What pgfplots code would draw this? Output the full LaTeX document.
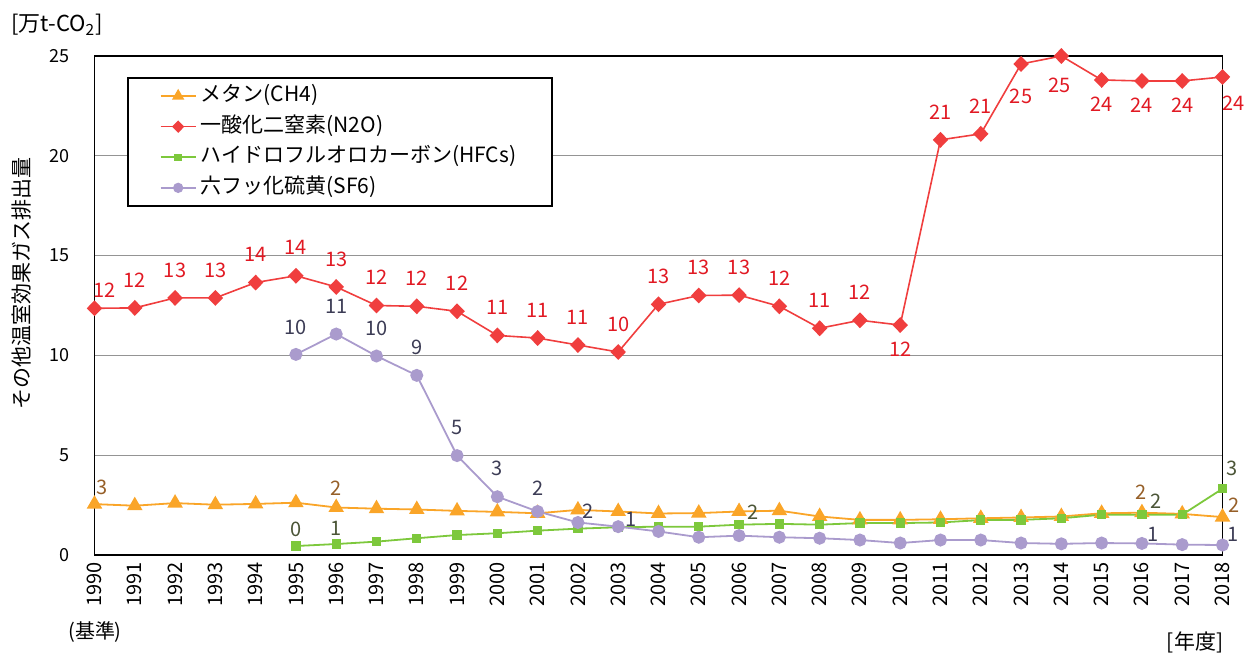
\documentclass[border=0pt]{standalone}
\usepackage{fontspec}
\setmainfont{Noto Sans CJK JP}
\usepackage{pgfplots}
\usepackage{pgfplotstable}
\pgfplotsset{compat=1.18}

\definecolor{chC}{RGB}{250,165,40}
\definecolor{chL}{RGB}{150,95,40}
\definecolor{noC}{RGB}{240,62,62}
\definecolor{noL}{RGB}{225,25,35}
\definecolor{hfC}{RGB}{125,200,60}
\definecolor{hfL}{RGB}{75,85,55}
\definecolor{sfC}{RGB}{170,155,205}
\definecolor{sfL}{RGB}{60,60,85}

% year, value, printed label, label offset (pt)
\pgfplotstableread{
year val lab dx dy
1990 2.55 3 4 8.5
1991 2.47 {} 0 0
1992 2.60 {} 0 0
1993 2.52 {} 0 0
1994 2.56 {} 0 0
1995 2.62 {} 0 0
1996 2.38 2 0 9.5
1997 2.32 {} 0 0
1998 2.28 {} 0 0
1999 2.21 {} 0 0
2000 2.16 {} 0 0
2001 2.09 {} 0 0
2002 2.26 {} 0 0
2003 2.18 {} 0 0
2004 2.08 {} 0 0
2005 2.10 {} 0 0
2006 2.18 {} 0 0
2007 2.22 {} 0 0
2008 1.93 {} 0 0
2009 1.76 {} 0 0
2010 1.76 {} 0 0
2011 1.79 {} 0 0
2012 1.84 {} 0 0
2013 1.88 {} 0 0
2014 1.93 {} 0 0
2015 2.09 {} 0 0
2016 2.12 2 -0.5 10
2017 2.06 {} 0 0
2018 1.90 2 6 6
}\tabCH

\pgfplotstableread{
year val lab dx dy
1990 12.36 12 5 9
1991 12.38 12 0 14
1992 12.88 13 0 14
1993 12.88 13 0 14
1994 13.65 14 0 14
1995 13.99 14 0 14
1996 13.43 13 0 14
1997 12.50 12 0 14
1998 12.46 12 0 14
1999 12.21 12 0 14
2000 11.00 11 0 14
2001 10.87 11 0 14
2002 10.52 11 0 14
2003 10.17 10 0 14
2004 12.56 13 0 14
2005 13.00 13 0 14
2006 13.02 13 0 14
2007 12.46 12 0 14
2008 11.36 11 0 14
2009 11.76 12 0 14
2010 11.52 12 0 -12
2011 20.80 21 0 14
2012 21.10 21 0 14
2013 24.60 25 0 -16
2014 25.00 25 -1 -14.5
2015 23.80 24 0 -12
2016 23.75 24 0 -12
2017 23.75 24 0 -12
2018 23.95 24 5.5 -13
}\tabNO

\pgfplotstableread{
year val lab dx dy
1995 0.45 0 0 8.5
1996 0.55 1 0 8
1997 0.67 {} 0 0
1998 0.84 {} 0 0
1999 1.00 {} 0 0
2000 1.09 {} 0 0
2001 1.22 {} 0 0
2002 1.32 {} 0 0
2003 1.39 {} 0 0
2004 1.42 {} 0 0
2005 1.42 {} 0 0
2006 1.52 2 7 6
2007 1.56 {} 0 0
2008 1.52 {} 0 0
2009 1.60 {} 0 0
2010 1.60 {} 0 0
2011 1.63 {} 0 0
2012 1.75 {} 0 0
2013 1.76 {} 0 0
2014 1.84 {} 0 0
2015 2.02 {} 0 0
2016 2.02 2 7 6.5
2017 2.02 {} 0 0
2018 3.32 3 5 10
}\tabHF

\pgfplotstableread{
year val lab dx dy
1995 10.05 10 0 13.5
1996 11.07 11 0 14
1997 9.97 10 0 14
1998 9.00 9 0 14
1999 4.98 5 0 14
2000 2.92 3 0 14
2001 2.18 2 0 11.5
2002 1.63 2 5 5.5
2003 1.42 1 6.5 3.5
2004 1.18 {} 0 0
2005 0.89 {} 0 0
2006 0.97 {} 0 0
2007 0.89 {} 0 0
2008 0.84 {} 0 0
2009 0.75 {} 0 0
2010 0.60 {} 0 0
2011 0.75 {} 0 0
2012 0.75 {} 0 0
2013 0.60 {} 0 0
2014 0.56 {} 0 0
2015 0.60 {} 0 0
2016 0.58 1 5.5 4.5
2017 0.52 {} 0 0
2018 0.50 1 5.5 5.5
}\tabSF

\pgfplotsset{
  vlabels/.style={
    point meta=explicit symbolic,
    nodes near coords,
    visualization depends on={\thisrow{dx} \as \ldx},
    visualization depends on={\thisrow{dy} \as \ldy},
    every node near coord/.append style={anchor=center, inner sep=0pt,
      xshift=\ldx pt, yshift=\ldy pt, text=#1,
      font=\fontsize{10}{11}\selectfont},
  },
}

\begin{document}
\begin{tikzpicture}
\useasboundingbox (0,0) rectangle (627.5pt,327.5pt);
\begin{axis}[
  at={(47.25pt,50pt)}, anchor=south west,
  scale only axis, width=564pt, height=249.5pt,
  xmin=1990, xmax=2018, ymin=0, ymax=25,
  xtick={1990,...,2018}, ytick={0,5,...,25},
  clip=false,
  /pgf/number format/1000 sep={},
  /pgf/number format/assume math mode=true,
  major tick length=0pt,
  axis line style={black, line width=0.8pt},
  ymajorgrids, grid style={color=black!42, line width=0.6pt},
  xticklabel style={rotate=90, anchor=east, font=\fontsize{10}{11}\selectfont},
  yticklabel style={font=\fontsize{9}{10}\selectfont, anchor=east, xshift=-9pt},
  ylabel={その他温室効果ガス排出量},
  ylabel style={at={(axis description cs:-0.0643,0.545)}, anchor=center,
    font=\fontsize{10.5}{12}\selectfont},
  legend cell align=left,
  legend style={at={(0.0288,0.958)}, anchor=north west, draw=black,
    line width=0.8pt, inner xsep=16pt, inner ysep=1.5pt, row sep=0pt,
    font=\fontsize{10.5}{12}\selectfont,
    nodes={text height=8pt, text depth=2.5pt, inner ysep=2.4pt}},
  legend image code/.code={\draw[mark repeat=2, mark phase=2, #1,
      every mark/.append style={scale=0.75}]
    plot coordinates {(0pt,0pt) (8.75pt,0pt) (17.5pt,0pt)};},
]
\addplot[color=chC, line width=0.9pt, mark=triangle*, mark size=3.6pt,
  mark options={solid, fill=chC, draw=chC}, vlabels=chL]
  table[x=year, y=val, meta=lab]{\tabCH};
\addlegendentry{メタン(CH4)}
\addplot[color=noC, line width=0.8pt, mark=diamond*, mark size=3.4pt,
  mark options={solid, fill=noC, draw=noC, xscale=1.3}, vlabels=noL]
  table[x=year, y=val, meta=lab]{\tabNO};
\addlegendentry{一酸化二窒素(N2O)}
\addplot[color=hfC, line width=0.9pt, mark=square*, mark size=1.9pt,
  mark options={solid, fill=hfC, draw=hfC}, vlabels=hfL]
  table[x=year, y=val, meta=lab]{\tabHF};
\addlegendentry{ハイドロフルオロカーボン(HFCs)}
\addplot[color=sfC, line width=0.9pt, mark=*, mark size=2.8pt,
  mark options={solid, fill=sfC, draw=sfC}, vlabels=sfL]
  table[x=year, y=val, meta=lab]{\tabSF};
\addlegendentry{六フッ化硫黄(SF6)}
\end{axis}
\node[font=\fontsize{11}{12}\selectfont] at (28.5pt,315pt) {[万t-CO\textsubscript{2}]};
\node[font=\fontsize{10}{11}\selectfont] at (47.5pt,11.5pt) {(基準)};
\node[font=\fontsize{10.5}{12}\selectfont] at (597.5pt,6.5pt) {[年度]};
\end{tikzpicture}
\end{document}
